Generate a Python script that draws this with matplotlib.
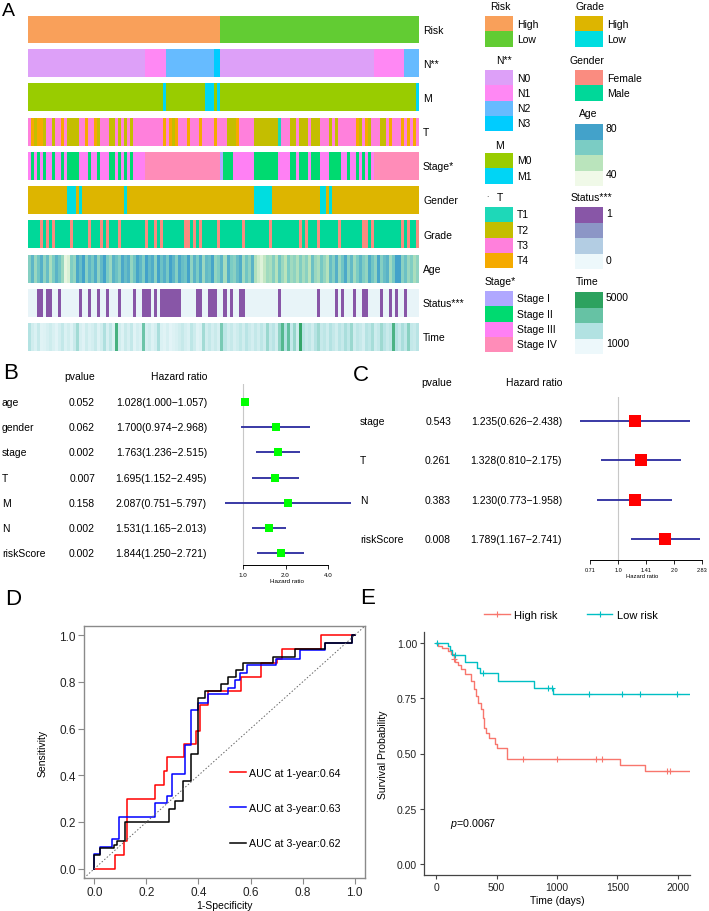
import numpy as np
import matplotlib
matplotlib.use('Agg')
import matplotlib.pyplot as plt
from matplotlib.colors import ListedColormap, LinearSegmentedColormap
from matplotlib.patches import Rectangle
from matplotlib.lines import Line2D
from matplotlib.ticker import NullLocator
from matplotlib.transforms import blended_transform_factory

plt.rcParams['font.family'] = ['Liberation Sans', 'DejaVu Sans']
plt.rcParams['mathtext.fontset'] = 'custom'
plt.rcParams['mathtext.it'] = 'Liberation Sans:italic'
plt.rcParams['mathtext.rm'] = 'Liberation Sans'

W, H = 709, 912

# ---------------- panel A data (130 samples, sorted by risk) ----------------
n_samples = 130
risk = '1' * 64 + '2' * 66
n_stage = '1' * 39 + '2' * 7 + '3' * 16 + '4' * 2 + '1' * 51 + '2' * 10 + '3' * 5
m_stage = '1' * 45 + '2' + '1' * 13 + '222' + '1' + '2' + '1' * 65 + '2'
t_stage = ("3424423323" "3432222334" "3342333223" "2323233333" "3333343424" "3334333"
           "4" "3333" "4" "333" "222" "4" "33333" "22222222" "1" "333" "22" "3" "222" "3"
           "222" "333" "2" "3" "2" "333333" "4" "2" "3" "4" "2" "333" "22" "3" "4" "333"
           "4" "3" "4" "3" "4" "3")
stage = ("3232323323" "3232222333" "2332333223" "2323233334" "4444444444" "4444444"
         "4444444" "1" "222" "3333333" "22222222" "3333" "22" "3" "222" "3" "222" "333"
         "2222" "33" "2" "33" "2" "3" "2" "3" "2" "3" "444444444444444")
gender_row = '1' * 13 + '222' + '1' + '2' + '1' * 14 + '2' + '1' * 42 + '2' * 6 + '1' * 16 + '22' + '1' + '2' + '1' * 29
grade_female_cols = [4, 6, 8, 14, 20, 24, 26, 30, 39, 42, 44, 52, 53, 55, 57, 63, 71, 80,
                     90, 92, 96, 103, 111, 112, 114, 124, 126, 129]
status_dead_cols = [3, 4, 6, 7, 10, 17, 20, 23, 26, 30, 35, 38, 39, 40, 42, 44, 45, 46, 47, 48,
                    49, 50, 56, 57, 60, 61, 62, 65, 67, 70, 71, 83, 96, 102, 104, 108, 111,
                    112, 117, 120, 122, 125]
age = [62, 70, 58, 66, 72, 60, 68, 55, 64, 71,
       66, 58, 42, 45, 63, 59, 74, 68, 77, 61,
       70, 65, 73, 60, 69, 76, 64, 58, 71, 67,
       62, 74, 68, 72, 59, 66, 75, 70, 63, 78,
       69, 73, 61, 76, 67, 72, 65, 79, 70, 62,
       74, 68, 66, 77, 60, 71, 64, 73, 58, 69,
       67, 75, 59, 63, 70, 56, 72, 64, 61, 68,
       73, 57, 66, 60, 71, 54, 48, 44, 50, 57,
       55, 62, 53, 66, 58, 52, 64, 57, 60, 54,
       63, 56, 61, 52, 67, 58, 55, 65, 59, 53,
       68, 62, 72, 58, 66, 74, 61, 69, 57, 64,
       70, 63, 59, 73, 66, 60, 75, 62, 68, 71,
       57, 65, 79, 76, 61, 67, 58, 63, 55, 60]
time_days = [1800, 900, 600, 1200, 400, 500, 700, 1000, 650, 350,
             800, 1300, 600, 900, 500, 1100, 2200, 700, 450, 1000,
             600, 800, 1200, 500, 900, 1900, 700, 1400, 600, 4600,
             900, 500, 1100, 700, 1300, 400, 800, 600, 3500, 700,
             1000, 500, 800, 2000, 600, 400, 700, 300, 500, 650,
             900, 1200, 800, 600, 1500, 1000, 400, 600, 2200, 900,
             1300, 800, 1100, 700, 3200, 1500, 900, 1200, 700, 1000,
             1400, 900, 1600, 1100, 800, 1300, 900, 1500, 1000, 2400,
             1200, 1600, 900, 2600, 4200, 1800, 3800, 1300, 2500, 1000,
             5200, 1600, 1100, 1400, 900, 1700, 2300, 1200, 1500, 1000,
             1800, 1300, 900, 1600, 1200, 2000, 1400, 2400, 1000, 1500,
             1200, 800, 1700, 1400, 2100, 1000, 1300, 2300, 1600, 1100,
             1500, 4500, 1800, 1200, 2000, 1400, 2800, 1300, 1100, 1600]

risk_cols = ['#F9A05A', '#62CC33']
n_cols = ['#DDA0F8', '#FF88F4', '#66BBFF', '#00CCFF']
m_cols = ['#99CC00', '#00D5F5']
t_cols = ['#1ED8B8', '#C4BE00', '#FF80DC', '#F5AA00']
stage_cols = ['#B0A8FF', '#00DA70', '#FF80F4', '#FF8CB8']
grade_cols = ['#DDB500', '#00DDE0']
gender_cols = ['#FA8C80', '#00D899']
age_cols = ['#F0F9E8', '#BAE4BC', '#7BCCC4', '#43A2CA']
status_cols = ['#EDF8FB', '#B3CDE3', '#8C96C6', '#8856A7']
time_cols = ['#EDF8FB', '#B2E2E2', '#66C2A4', '#2CA25F']

# ---------------- panel B / C data ----------------
b_vars = ['age', 'gender', 'stage', 'T', 'M', 'N', 'riskScore']
b_p = [0.052, 0.062, 0.002, 0.007, 0.158, 0.002, 0.002]
b_hr = [1.028, 1.700, 1.763, 1.695, 2.087, 1.531, 1.844]
b_lo = [1.000, 0.974, 1.236, 1.152, 0.751, 1.165, 1.250]
b_hi = [1.057, 2.968, 2.515, 2.495, 5.797, 2.013, 2.721]

c_vars = ['stage', 'T', 'N', 'riskScore']
c_p = [0.543, 0.261, 0.383, 0.008]
c_hr = [1.235, 1.328, 1.230, 1.789]
c_lo = [0.626, 0.810, 0.773, 1.167]
c_hi = [2.438, 2.175, 1.958, 2.741]

# ---------------- panel D data (ROC step corners) ----------------
fpr_1y = [0, 0.078, 0.112, 0.125, 0.234, 0.266, 0.278, 0.344, 0.391, 0.404, 0.438, 0.562,
          0.64, 0.70, 0.72, 0.87, 1.0]
tpr_1y = [0, 0.06, 0.117, 0.30, 0.36, 0.42, 0.48, 0.534, 0.59, 0.70, 0.76, 0.82,
          0.88, 0.90, 0.94, 1.0, 1.0]
fpr_3y = [0, 0, 0.023, 0.068, 0.093, 0.234, 0.278, 0.30, 0.349, 0.372, 0.397, 0.438,
          0.512, 0.54, 0.558, 0.585, 0.697, 0.792, 0.885, 0.99, 1.0]
tpr_3y = [0, 0.064, 0.093, 0.128, 0.22, 0.28, 0.31, 0.406, 0.53, 0.68, 0.712, 0.748,
          0.774, 0.81, 0.84, 0.873, 0.90, 0.936, 0.966, 1.0, 1.0]
fpr_3yb = [0, 0, 0.023, 0.074, 0.087, 0.116, 0.287, 0.31, 0.34, 0.37, 0.40, 0.425,
           0.487, 0.515, 0.544, 0.572, 0.687, 0.77, 0.885, 0.99, 1.0]
tpr_3yb = [0, 0.06, 0.088, 0.10, 0.12, 0.20, 0.256, 0.288, 0.377, 0.49, 0.73, 0.762,
           0.79, 0.82, 0.85, 0.88, 0.909, 0.94, 0.966, 1.0, 1.0]
roc_labels = ['AUC at 1-year:0.64', 'AUC at 3-year:0.63', 'AUC at 3-year:0.62']

# ---------------- panel E data (KM) ----------------
km_high_t = [0, 19, 50, 100, 125, 145, 160, 185, 210, 235, 290, 310, 330, 350, 369, 386,
             397, 415, 440, 488, 501, 584, 1521, 1727]
km_high_s = [1.0, 0.988, 0.978, 0.965, 0.95, 0.93, 0.915, 0.90, 0.882, 0.859, 0.83, 0.79,
             0.76, 0.73, 0.70, 0.66, 0.617, 0.594, 0.571, 0.544, 0.526, 0.477, 0.447, 0.42]
km_high_cens = [150, 722, 997, 1322, 1369, 1906, 1934]
km_low_t = [0, 100, 115, 129, 240, 342, 364, 515, 813, 970]
km_low_s = [1.0, 0.985, 0.97, 0.947, 0.915, 0.889, 0.864, 0.829, 0.798, 0.768]
km_low_cens = [11, 157, 391, 923, 956, 1267, 1540, 1686, 1994]
km_tmax = 2100


def box(x0, y0, x1, y1):
    return [x0 / W, 1 - y1 / H, (x1 - x0) / W, (y1 - y0) / H]


def codes(s):
    arr = np.array([int(c) for c in s])
    assert len(arr) == n_samples, len(arr)
    return arr


fig = plt.figure(figsize=(W / 100, H / 100), dpi=100)

# overlay in pixel coordinates for free text / legend blocks
ov = fig.add_axes([0, 0, 1, 1], zorder=5)
ov.set_xlim(0, W)
ov.set_ylim(H, 0)
ov.axis('off')
ov.patch.set_alpha(0)

# ---------------- A: annotation heatmap ----------------
grade_row = np.full(n_samples, 2)
grade_row[grade_female_cols] = 1
status_row = np.zeros(n_samples)
status_row[status_dead_cols] = 1

hm_rows = [
    ('Risk', codes(risk), ListedColormap(risk_cols), 0.5, 2.5),
    ('N**', codes(n_stage), ListedColormap(n_cols), 0.5, 4.5),
    ('M', codes(m_stage), ListedColormap(m_cols), 0.5, 2.5),
    ('T', codes(t_stage), ListedColormap(t_cols), 0.5, 4.5),
    ('Stage*', codes(stage), ListedColormap(stage_cols), 0.5, 4.5),
    ('Gender', codes(gender_row), ListedColormap(grade_cols), 0.5, 2.5),
    ('Grade', grade_row, ListedColormap(gender_cols), 0.5, 2.5),
    ('Age', np.array(age), LinearSegmentedColormap.from_list('age', age_cols), 40, 76),
    ('Status***', status_row, ListedColormap(['#E8F4F8', '#8856A7']), -0.5, 1.5),
    ('Time', np.array(time_days), LinearSegmentedColormap.from_list('tm', time_cols), 0, 5500),
]
row_h = 27 / 34.2
hm = fig.add_axes(box(28, 17, 418, 352))
for i, (lab, vals, cmap, vmin, vmax) in enumerate(hm_rows):
    hm.imshow(vals[np.newaxis, :], cmap=cmap, vmin=vmin, vmax=vmax, aspect='auto',
              interpolation='nearest', extent=[0, n_samples, i + row_h, i])
    ov.text(423, 17 + 34.2 * i + 13.5, lab, fontsize=7.5, va='center', ha='left')
hm.set_xlim(0, n_samples)
hm.set_ylim(len(hm_rows) - 1 + row_h, 0)
hm.axis('off')

ov.text(2, 12, 'A', fontsize=14, va='center', ha='left')


def disc_legend(title, tx, ty, labels, cols, bx, by):
    ov.text(tx, ty, title, fontsize=7.5, va='center', ha='left')
    for k, (lb, c) in enumerate(zip(labels, cols)):
        ov.add_patch(Rectangle((bx, by + 15.3 * k), 28, 15.3, color=c, lw=0))
        ov.text(bx + 32, by + 15.3 * k + 7.5, lb, fontsize=7.5, va='center', ha='left')


def cont_legend(title, tx, ty, cols, bx, by, ticks):
    ov.text(tx, ty, title, fontsize=7.5, va='center', ha='left')
    for k, c in enumerate(cols[::-1]):
        ov.add_patch(Rectangle((bx, by + 15.5 * k), 28, 15.5, color=c, lw=0))
    for lb, yy in ticks:
        ov.text(bx + 31, yy, lb, fontsize=7.5, va='center', ha='left')


disc_legend('Risk', 490, 7, ['High', 'Low'], risk_cols, 485, 17)
disc_legend('N**', 496, 61, ['N0', 'N1', 'N2', 'N3'], n_cols, 485, 71)
disc_legend('M', 495, 146, ['M0', 'M1'], m_cols, 485, 154)
disc_legend('T', 497, 198, ['T1', 'T2', 'T3', 'T4'], t_cols, 485, 208)
ov.text(486, 198, '\u00b7', fontsize=5, va='center')
disc_legend('Stage*', 485, 282, ['Stage I', 'Stage II', 'Stage III', 'Stage IV'], stage_cols, 485, 292)
disc_legend('Grade', 576, 7, ['High', 'Low'], grade_cols, 575, 17)
disc_legend('Gender', 570, 61, ['Female', 'Male'], gender_cols, 575, 71)
cont_legend('Age', 579, 114, age_cols, 575, 125, [('80', 129), ('40', 175)])
cont_legend('Status***', 571, 198, status_cols, 575, 208, [('1', 214), ('0', 261)])
cont_legend('Time', 576, 282, time_cols, 575, 293, [('5000', 298), ('1000', 344)])

# ---------------- B: univariate forest ----------------
whisker = '#2A2A9E'
bx = fig.add_axes(box(215, 385, 360, 566))
bx.set_xscale('log', base=2)
bx.set_xlim(0.633, 6.74)
bx.set_ylim(6.476, -0.715)
yb = np.arange(len(b_vars))
bx.axvline(1, color='#C8C8C8', lw=0.8)
bx.hlines(yb, b_lo, b_hi, color=whisker, lw=1.3)
bx.scatter(b_hr, yb, marker='s', s=40, color='#00FF00', zorder=3, linewidths=0)
for s in ['top', 'right', 'left']:
    bx.spines[s].set_visible(False)
bx.spines['bottom'].set_bounds(1, 4)
bx.spines['bottom'].set_linewidth(0.7)
bx.set_xticks([1, 2, 4])
bx.set_xticklabels(['1.0', '2.0', '4.0'])
bx.xaxis.set_minor_locator(NullLocator())
bx.set_yticks([])
bx.tick_params(axis='x', labelsize=4.5, length=3, width=0.6, pad=2)
bx.set_xlabel('Hazard ratio', fontsize=4.5, labelpad=1)
bx.patch.set_alpha(0)

tb = blended_transform_factory(ov.transData, bx.transData)
ov.text(95, 377, 'pvalue', fontsize=7.5, ha='right', va='center')
ov.text(207, 377, 'Hazard ratio', fontsize=7.5, ha='right', va='center')
for k in range(len(b_vars)):
    ov.text(2, k, b_vars[k], transform=tb, fontsize=7.5, va='center', ha='left')
    ov.text(95, k, f'{b_p[k]:.3f}', transform=tb, fontsize=7.5, va='center', ha='right')
    ov.text(207, k, f'{b_hr[k]:.3f}({b_lo[k]:.3f}\u2212{b_hi[k]:.3f})', transform=tb,
            fontsize=7.5, va='center', ha='right')
ov.text(3, 374, 'B', fontsize=16, va='center', ha='left')

# ---------------- C: multivariate forest ----------------
cx = fig.add_axes(box(575, 398, 709, 561))
cx.set_xscale('log', base=2)
cx.set_xlim(0.587, 3.08)
cx.set_ylim(3.537, -0.611)
yc = np.arange(len(c_vars))
cx.axvline(1, color='#C8C8C8', lw=0.8)
cx.hlines(yc, c_lo, c_hi, color=whisker, lw=1.3)
cx.scatter(c_hr, yc, marker='s', s=75, color='#FF0000', zorder=3, linewidths=0)
for s in ['top', 'right', 'left']:
    cx.spines[s].set_visible(False)
cx.spines['bottom'].set_bounds(0.71, 2.83)
cx.spines['bottom'].set_linewidth(0.7)
cx.set_xticks([0.71, 1, 1.41, 2, 2.83])
cx.set_xticklabels(['0.71', '1.0', '1.41', '2.0', '2.83'])
cx.xaxis.set_minor_locator(NullLocator())
cx.set_yticks([])
cx.tick_params(axis='x', labelsize=4, length=3, width=0.6, pad=2)
cx.set_xlabel('Hazard ratio', fontsize=4.2, labelpad=1)
cx.patch.set_alpha(0)

tc = blended_transform_factory(ov.transData, cx.transData)
ov.text(452, 383, 'pvalue', fontsize=7.5, ha='right', va='center')
ov.text(562, 383, 'Hazard ratio', fontsize=7.5, ha='right', va='center')
for k in range(len(c_vars)):
    ov.text(360, k, c_vars[k], transform=tc, fontsize=7.5, va='center', ha='left')
    ov.text(451, k, f'{c_p[k]:.3f}', transform=tc, fontsize=7.5, va='center', ha='right')
    ov.text(562, k, f'{c_hr[k]:.3f}({c_lo[k]:.3f}\u2212{c_hi[k]:.3f})', transform=tc,
            fontsize=7.5, va='center', ha='right')
ov.text(353, 376, 'C', fontsize=16, va='center', ha='left')

# ---------------- D: ROC ----------------
dx = fig.add_axes(box(84, 627, 365, 879))
for fpr, tpr, col, lab in zip([fpr_1y, fpr_3y, fpr_3yb], [tpr_1y, tpr_3y, tpr_3yb],
                              ['#FF0000', '#0000FF', '#000000'], roc_labels):
    dx.step(fpr, tpr, where='post', color=col, lw=1.1, label=lab)
dx.axline((0, 0), (1, 1), color='#666666', lw=0.7, ls=(0, (1.5, 2)))
dx.set_xlim(-0.04, 1.04)
dx.set_ylim(-0.04, 1.04)
dx.set_xticks(np.arange(0, 1.01, 0.2))
dx.set_yticks(np.arange(0, 1.01, 0.2))
dx.xaxis.set_major_formatter(matplotlib.ticker.FormatStrFormatter('%.1f'))
dx.yaxis.set_major_formatter(matplotlib.ticker.FormatStrFormatter('%.1f'))
for s in dx.spines.values():
    s.set_color('#8A8A8A')
    s.set_linewidth(1.0)
dx.tick_params(labelsize=8.5, length=4, color='#8A8A8A', labelcolor='#222222', pad=2)
dx.set_xlabel('1-Specificity', fontsize=7.5, labelpad=1)
dx.set_ylabel('Sensitivity', fontsize=7.5, labelpad=8)
dx.legend(loc='upper left', bbox_to_anchor=((230 - 84) / 281, (879 - 769) / 252),
          frameon=False, fontsize=7.7, handlelength=1.45, handletextpad=0.35,
          labelspacing=2.35, borderpad=0, borderaxespad=0)
ov.text(5, 600, 'D', fontsize=16, va='center', ha='left')

# ---------------- E: Kaplan-Meier ----------------
ex = fig.add_axes(box(424, 633, 690, 876))
km_sets = [(km_high_t, km_high_s, km_high_cens, '#F8766D', 'High risk'),
           (km_low_t, km_low_s, km_low_cens, '#00BFC4', 'Low risk')]
handles = []
for t, s, cens, col, lab in km_sets:
    t = np.array(t, dtype=float)
    s = np.array(s)
    ex.step(np.append(t, km_tmax), np.append(s, s[-1]), where='post', color=col, lw=1.0)
    cs = s[np.searchsorted(t, cens, side='right') - 1]
    ex.plot(cens, cs, '+', color=col, ms=4, mew=0.8, ls='none')
    handles.append(Line2D([], [], color=col, marker='+', lw=1.0, ms=4, mew=0.8, label=lab))
ex.set_xlim(-100, 2100)
ex.set_ylim(-0.05, 1.05)
ex.set_xticks([0, 500, 1000, 1500, 2000])
ex.set_yticks([0, 0.25, 0.5, 0.75, 1.0])
ex.yaxis.set_major_formatter(matplotlib.ticker.FormatStrFormatter('%.2f'))
for s in ['top', 'right']:
    ex.spines[s].set_visible(False)
for s in ['left', 'bottom']:
    ex.spines[s].set_color('#444444')
    ex.spines[s].set_linewidth(0.9)
ex.tick_params(labelsize=7.5, length=3, color='#444444', labelcolor='#222222', pad=2)
ex.set_xlabel('Time (days)', fontsize=7.5, labelpad=2)
ex.set_ylabel('Survival Probability', fontsize=7.5, labelpad=6)
ex.text(116, 0.186, '$p$=0.0067', fontsize=7.7, va='center', ha='left')
ex.legend(handles=handles, loc='center', bbox_to_anchor=((571 - 424) / 266, 1 + 17 / 243),
          ncol=2, frameon=False, fontsize=8, handlelength=2.3, handletextpad=0.4,
          columnspacing=2.6, borderaxespad=0)
ov.text(360, 599, 'E', fontsize=16, va='center', ha='left')

fig.savefig('out.png', dpi=100)
